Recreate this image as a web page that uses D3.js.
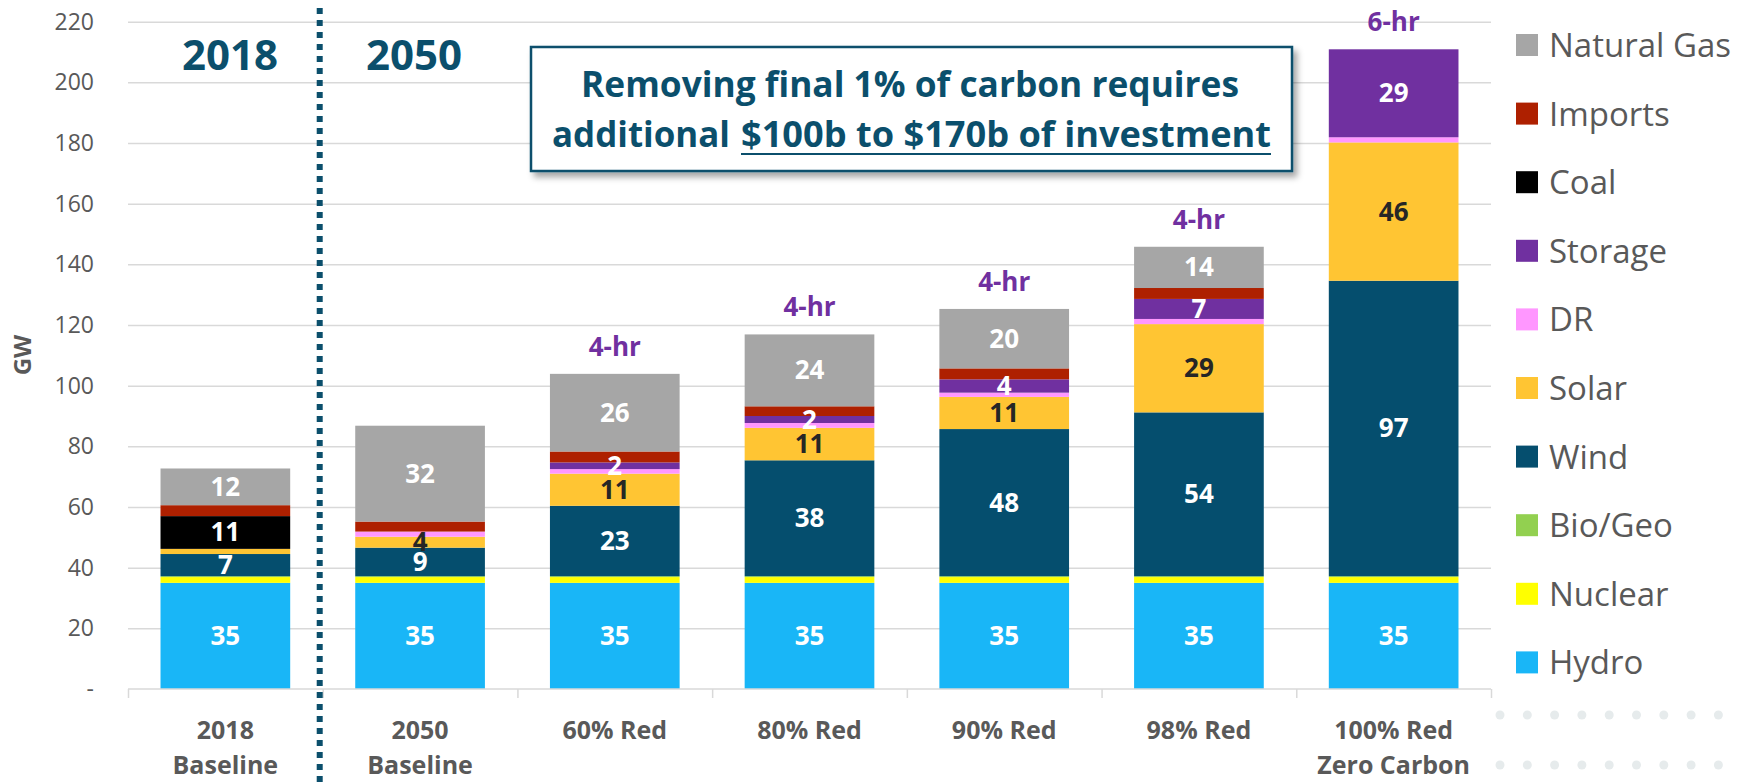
<!DOCTYPE html>
<html>
<head>
<meta charset="utf-8">
<script src="https://cdn.jsdelivr.net/npm/d3@7"></script>
<style>
  html, body { margin: 0; padding: 0; background: #fff; }
  svg { display: block; font-family: "Open Sans", sans-serif; }
</style>
</head>
<body>
<div id="chart"></div>
<script>
// categories and stacked series (GW)
const categories = ["2018\nBaseline", "2050\nBaseline", "60% Red", "80% Red", "90% Red", "98% Red", "100% Red\nZero Carbon"];
const hydro      = [35, 35, 35, 35, 35, 35, 35];
const nuclear    = [1.9, 1.9, 1.9, 1.9, 1.9, 1.9, 1.9];
const bioGeo     = [0.3, 0.3, 0.3, 0.3, 0.3, 0.3, 0.3];
const wind       = [7.3, 9.4, 23.2, 38.2, 48.5, 54.0, 97.4];
const solar      = [1.7, 3.6, 10.6, 10.7, 10.6, 29.1, 45.6];
const dr         = [0, 1.7, 1.5, 1.6, 1.4, 1.7, 1.7];
const storage    = [0, 0, 2.2, 2.3, 4.4, 6.6, 29.0];
const coal       = [10.8, 0, 0, 0, 0, 0, 0];
const imports    = [3.6, 3.3, 3.6, 3.2, 3.6, 3.6, 0];
const naturalGas = [12.1, 31.6, 25.6, 23.7, 19.6, 13.6, 0];
const storageHours = ["", "", "4-hr", "4-hr", "4-hr", "4-hr", "6-hr"];
const yTicks = [0, 20, 40, 60, 80, 100, 120, 140, 160, 180, 200, 220];

const seriesNames = ["Hydro", "Nuclear", "Bio/Geo", "Wind", "Solar", "DR", "Storage", "Coal", "Imports", "Natural Gas"];
const seriesValues = [hydro, nuclear, bioGeo, wind, solar, dr, storage, coal, imports, naturalGas];
const colors = ["#19B6F7", "#FFFF00", "#92D050", "#054E6E", "#FFC533", "#FF97FF", "#7030A0", "#000000", "#AE2000", "#A6A6A6"];
const labelled = ["Hydro", "Wind", "Solar", "Storage", "Coal", "Natural Gas"];

const width = 1738, height = 782;
const teal = "#0B4F6C", grey = "#595959";

const svg = d3.select("#chart").append("svg")
    .attr("width", width)
    .attr("height", height);

const defs = svg.append("defs");
const f = defs.append("filter").attr("id", "shadow").attr("x", "-5%").attr("y", "-10%").attr("width", "115%").attr("height", "140%");
f.append("feDropShadow").attr("dx", 4).attr("dy", 5).attr("stdDeviation", 3).attr("flood-color", "#000").attr("flood-opacity", 0.35);

// table built from the arrays
const table = categories.map((c, i) => {
    const row = { cat: c, i: i };
    seriesNames.forEach((s, k) => row[s] = seriesValues[k][i]);
    return row;
});
const stacked = d3.stack().keys(seriesNames)(table);

const x = d3.scaleBand()
    .domain(categories)
    .range([128, 1491])
    .paddingInner(0.334)
    .paddingOuter(0.167);

const y = d3.scaleLinear()
    .domain([0, 220])
    .range([689, 21.7]);

// decorative dots bottom right
const dotsG = svg.append("g");
d3.range(0, 9).forEach(c => {
    [715, 765].forEach(r => {
        dotsG.append("circle").attr("cx", 1500 + c * 27.3).attr("cy", r).attr("r", 4.5).attr("fill", "#E6EBEC");
    });
});

// gridlines
svg.append("g")
    .attr("transform", "translate(128,0)")
    .call(d3.axisLeft(y).tickValues(yTicks.slice(1)).tickSize(-(1491 - 128)).tickFormat(""))
    .call(g => g.select(".domain").remove())
    .call(g => g.selectAll("line").attr("stroke", "#D9D9D9").attr("stroke-width", 1.5));

// y tick labels
svg.append("g")
    .attr("transform", "translate(94,0)")
    .call(d3.axisLeft(y).tickValues(yTicks).tickSize(0).tickPadding(0).tickFormat(d => d === 0 ? "-" : d))
    .call(g => g.select(".domain").remove())
    .call(g => g.selectAll("text").attr("fill", grey).attr("font-size", 23).attr("font-family", "Open Sans"));

svg.append("text")
    .attr("transform", "translate(31,355) rotate(-90)")
    .attr("text-anchor", "middle")
    .attr("fill", grey)
    .attr("font-size", 24)
    .attr("font-weight", "bold")
    .text("GW");

// bars
const layers = svg.append("g").selectAll("g").data(stacked).enter().append("g")
    .attr("fill", (d, k) => colors[k]);
layers.selectAll("rect").data(d => d).enter().append("rect")
    .attr("x", d => x(d.data.cat))
    .attr("y", d => y(d[1]))
    .attr("width", x.bandwidth())
    .attr("height", d => y(d[0]) - y(d[1]));

// x axis with boundary ticks
const bx = d3.scaleLinear().domain([0, categories.length]).range([128, 1491]);
svg.append("g")
    .attr("transform", "translate(0,689)")
    .call(d3.axisBottom(bx).ticks(categories.length).tickSize(9).tickFormat(""))
    .call(g => g.select(".domain").attr("stroke", "#D9D9D9").attr("stroke-width", 1.5).attr("d", "M128,0H1491"))
    .call(g => g.selectAll("line").attr("stroke", "#D9D9D9").attr("stroke-width", 1.5));

// segment value labels
const labelG = svg.append("g").attr("font-weight", "bold").attr("font-size", 26).attr("text-anchor", "middle");
stacked.forEach(layer => {
    if (!labelled.includes(layer.key)) return;
    layer.forEach(d => {
        const v = d[1] - d[0];
        if (v < 2) return;
        labelG.append("text")
            .attr("x", x(d.data.cat) + x.bandwidth() / 2)
            .attr("y", (y(d[0]) + y(d[1])) / 2 + 9)
            .attr("fill", layer.key === "Solar" ? "#262626" : "#fff")
            .text(d3.format(".0f")(v));
    });
});

// storage duration labels above bars
const topLayer = stacked[stacked.length - 1];
svg.append("g").selectAll("text").data(topLayer).enter().append("text")
    .attr("x", d => x(d.data.cat) + x.bandwidth() / 2)
    .attr("y", d => y(d[1]) - 18)
    .attr("text-anchor", "middle")
    .attr("font-weight", "bold")
    .attr("font-size", 26)
    .attr("fill", "#7030A0")
    .text((d, i) => storageHours[i]);

// category labels
const catG = svg.append("g").attr("font-weight", "bold").attr("font-size", 25).attr("fill", grey).attr("text-anchor", "middle");
categories.forEach(c => {
    c.split("\n").forEach((line, j) => {
        catG.append("text")
            .attr("x", x(c) + x.bandwidth() / 2)
            .attr("y", 739 + j * 35)
            .text(line);
    });
});

// 2018 / 2050 divider
const divX = x(categories[1]) - x.step() * x.paddingInner() / 2 - 3;
svg.append("line")
    .attr("x1", divX).attr("x2", divX)
    .attr("y1", 8).attr("y2", height)
    .attr("stroke", teal)
    .attr("stroke-width", 6)
    .attr("stroke-dasharray", "6,6");

svg.append("text").attr("x", 230).attr("y", 70).attr("text-anchor", "middle")
    .attr("font-weight", "bold").attr("font-size", 42).attr("fill", teal).text("2018");
svg.append("text").attr("x", 414).attr("y", 70).attr("text-anchor", "middle")
    .attr("font-weight", "bold").attr("font-size", 42).attr("fill", teal).text("2050");

// annotation box
svg.append("rect")
    .attr("x", 531).attr("y", 47).attr("width", 761).attr("height", 124)
    .attr("fill", "#fff").attr("stroke", teal).attr("stroke-width", 2.5)
    .attr("filter", "url(#shadow)");

svg.append("text")
    .attr("x", 581).attr("y", 97)
    .attr("textLength", 658).attr("lengthAdjust", "spacingAndGlyphs")
    .attr("font-weight", "bold").attr("font-size", 36).attr("fill", teal)
    .text("Removing final 1% of carbon requires");
svg.append("text")
    .attr("x", 552).attr("y", 147)
    .attr("textLength", 178).attr("lengthAdjust", "spacingAndGlyphs")
    .attr("font-weight", "bold").attr("font-size", 36).attr("fill", teal)
    .text("additional");
const ul = svg.append("text")
    .attr("x", 741).attr("y", 147)
    .attr("textLength", 530).attr("lengthAdjust", "spacingAndGlyphs")
    .attr("font-weight", "bold").attr("font-size", 36).attr("fill", teal)
    .text("$100b to $170b of investment");
const bb = ul.node().getBBox();
svg.append("line")
    .attr("x1", bb.x).attr("x2", bb.x + bb.width)
    .attr("y1", 154).attr("y2", 154)
    .attr("stroke", teal).attr("stroke-width", 2.2);

// legend, reversed stack order
const legend = svg.append("g");
const legendItems = seriesNames.map((s, k) => ({ name: s, color: colors[k] })).reverse();
legendItems.forEach((d, i) => {
    const cy = 45 + i * 68.6;
    legend.append("rect").attr("x", 1516).attr("y", cy - 11).attr("width", 22).attr("height", 22).attr("fill", d.color);
    legend.append("text").attr("x", 1549).attr("y", cy + 12)
        .attr("font-size", 33).attr("fill", grey).text(d.name);
});
</script>
</body>
</html>
